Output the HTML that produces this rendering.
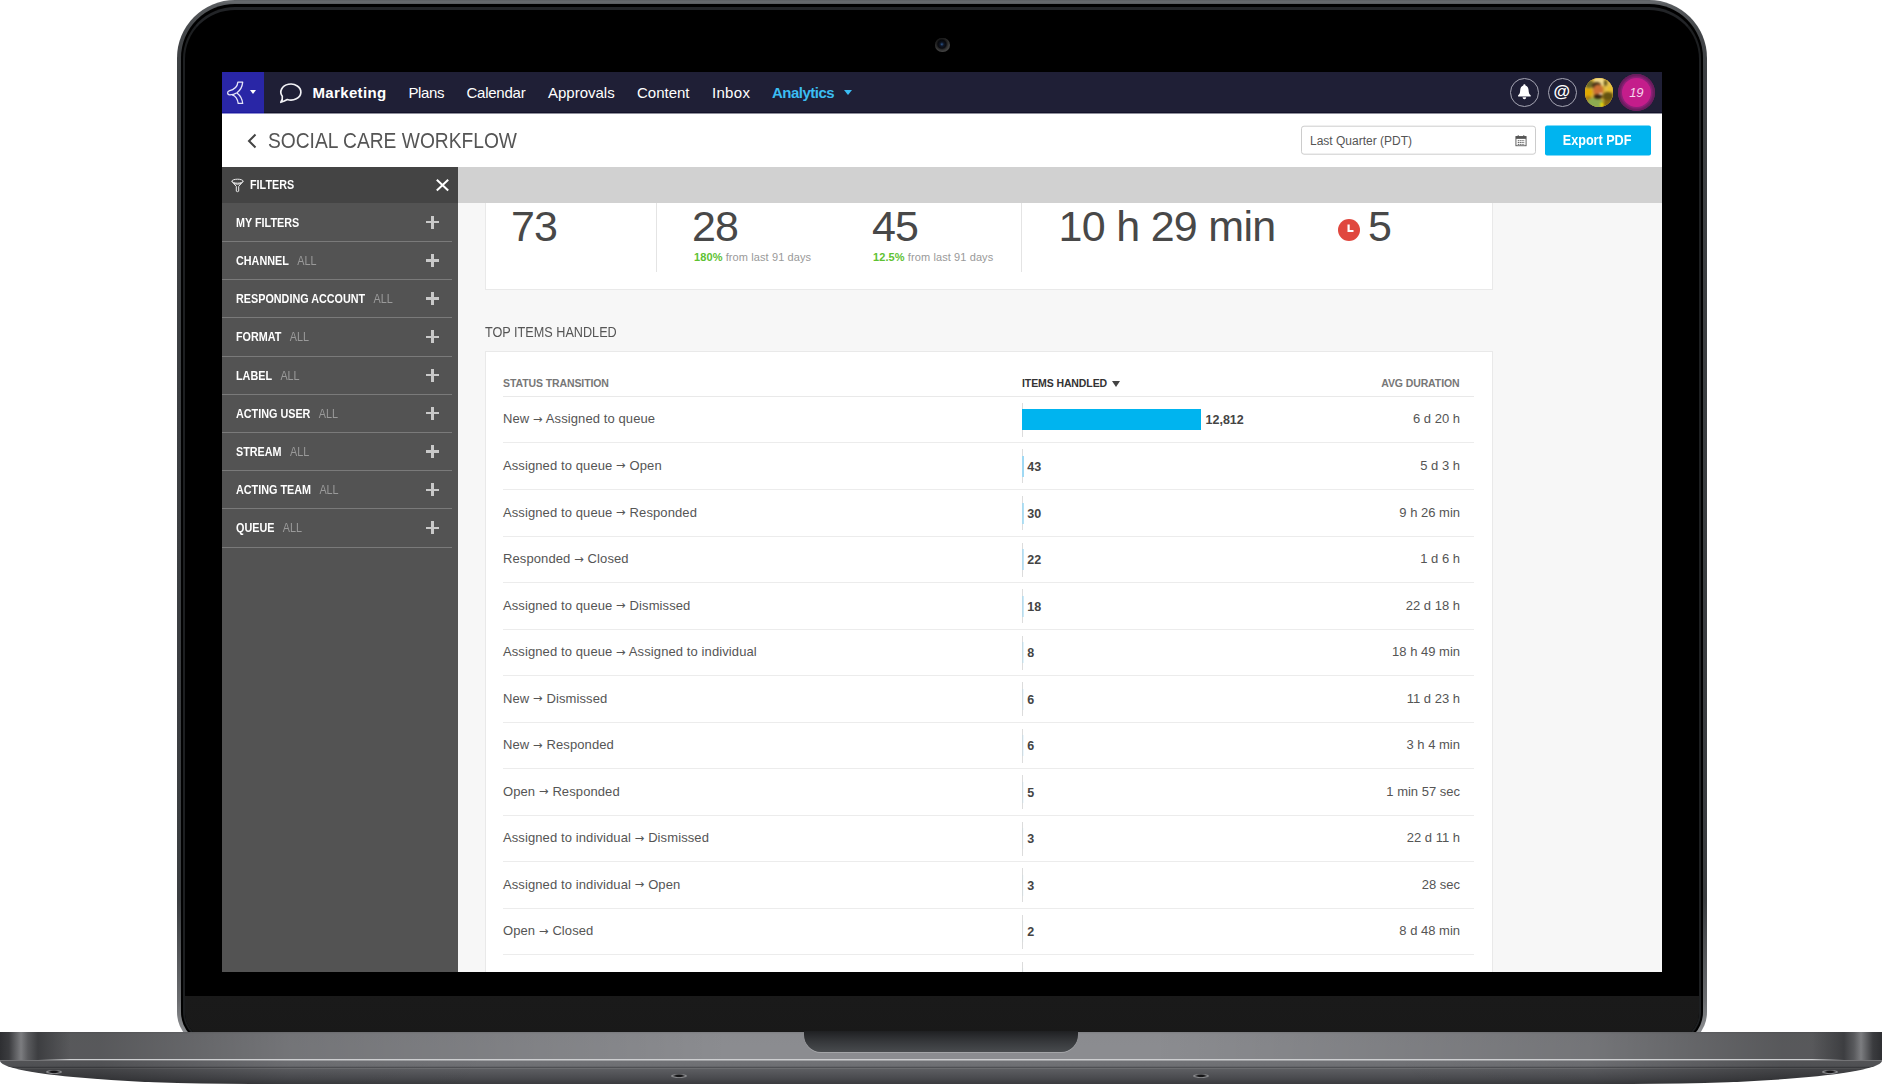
<!DOCTYPE html>
<html lang="en">
<head>
<meta charset="utf-8">
<title>Social Care Workflow</title>
<style>
*{box-sizing:border-box;margin:0;padding:0}
html,body{width:1882px;height:1086px;background:#fff;overflow:hidden}
body{position:relative;font-family:"Liberation Sans","DejaVu Sans",sans-serif;color:#444}
.abs{position:absolute}
/* ---------- laptop ---------- */
#lid{position:absolute;left:177px;top:0;width:1530px;height:1047.500px;border-radius:58px 58px 36px 36px;
 background:linear-gradient(180deg,#5c5f63 0,#686b6e 2px,#585b5e 4px,#44474a 30px,#3d4043 70px,#3a3d40 900px,#6a6c6f 1000px,#8a8c8f 1031px);}
#lid2{position:absolute;left:181px;top:4px;width:1522px;height:1040.500px;border-radius:54px 54px 33px 33px;background:#000;}
#bezel{position:absolute;left:183px;top:6.500px;width:1518px;height:1036px;border-radius:52px 52px 31px 31px;background:#000;border:2.500px solid #1d1f21;border-top:3px solid #222427}
#chin{position:absolute;left:185px;top:996px;width:1514px;height:45px;border-radius:0 0 29px 29px;background:linear-gradient(180deg,#1a1a1a,#191919);}
#cam{position:absolute;left:935.200px;top:37.500px;width:14.800px;height:14.800px;border-radius:50%;background:radial-gradient(circle at 46% 44%,#4a8fd0 0,#22406e 7%,#101828 18%,#0a0b10 36%,#2a2a2a 48%,#3e3e3e 62%,#444 78%,#2a2a2a 92%,#000 100%);}
#cam:after{content:"";position:absolute;left:0;top:0;width:100%;height:100%;border-radius:50%;background:linear-gradient(160deg,rgba(0,0,0,.4) 15%,rgba(0,0,0,0) 65%)}
#base{position:absolute;left:0;top:1031.500px;width:1882px;height:52.500px;
 background:
  linear-gradient(90deg,rgba(0,0,0,.37) 0,rgba(0,0,0,.37) 100px,rgba(0,0,0,.17) 290px,rgba(0,0,0,0) 730px,rgba(0,0,0,0) 1152px,rgba(0,0,0,.17) 1592px,rgba(0,0,0,.37) 1782px,rgba(0,0,0,.37) 1882px) 0 0 / 100% 27.300px no-repeat,
  linear-gradient(90deg,rgba(0,0,0,.28) 0,rgba(0,0,0,.28) 100px,rgba(0,0,0,.04) 290px,rgba(0,0,0,0) 500px,rgba(0,0,0,0) 1382px,rgba(0,0,0,.04) 1592px,rgba(0,0,0,.28) 1782px,rgba(0,0,0,.28) 1882px) 0 28.300px / 100% 24.200px no-repeat,
  linear-gradient(180deg,#7e7f83 0,#8a8b8f 2px,#8b8c90 14px,#8b8c90 27px,#cdced0 27.400px,#cdced0 28.300px,#717276 28.700px,#6e6f73 34.300px,#4e4f53 35px,#4e4f53 35.800px,#6c6d70 36.500px,#5c5d61 37.500px,#4a4b4f 46px,#38393c 52.500px);
 border-radius:0 0 250px 250px / 0 0 23.500px 23.500px;}
#base:before{content:"";position:absolute;left:0;top:0;width:70px;height:28px;background:linear-gradient(90deg,#2e2f32 0,#3b3c3f 9px,#7c7d80 21px,#595a5d 28px,#3d3e41 38px,rgba(90,91,95,0) 70px)}
#base:after{content:"";position:absolute;right:0;top:0;width:70px;height:28px;background:linear-gradient(270deg,#2e2f32 0,#3b3c3f 9px,#7c7d80 21px,#595a5d 28px,#3d3e41 38px,rgba(90,91,95,0) 70px)}
.foot{position:absolute;width:16px;height:3.600px;border-radius:50%;background:radial-gradient(ellipse at 50% 45%,#121214 0,#161618 28%,#88898c 58%,rgba(136,137,140,0) 100%)}
#notch{position:absolute;left:804px;top:1031px;width:274px;height:21px;border-radius:0 0 17px 17px;background:linear-gradient(180deg,#1f2022,#36383b 50%,#484b4e);box-shadow:0 1px 0 #a4a5a8}
/* ---------- screen ---------- */
#screen{position:absolute;left:222px;top:72px;width:1440px;height:900px;overflow:hidden;background:#f7f7f7}
#nav{position:absolute;left:0;top:0;width:1440px;height:41px;background:#1f1f36;border-bottom:1px solid #12122a}
#logo{position:absolute;left:0;top:0;width:42px;height:41px;overflow:hidden;background:#2926a6;border-bottom:1px solid #1c1aa0}
.nv{position:absolute;top:11px;height:20px;line-height:20px;font-size:15px;color:#fff;white-space:nowrap}

.circ{position:absolute;top:6px;width:29px;height:29px;border-radius:50%;border:1.300px solid #a6a6b4;background:#1f1f36;overflow:hidden}
.circ svg{position:absolute;left:-1.300px;top:-1.300px}
.circ span{position:absolute;left:-1.300px;top:-2.400px;width:29px;text-align:center;font-size:17px;line-height:29px;color:#fff;font-weight:bold}
#avatar{width:28.600px;height:28.600px;border-radius:50%;overflow:hidden;background:#d8b03a}
#avatar svg{position:absolute;left:0;top:0}
#badge{width:37px;height:37px;border-radius:50%;background:#751f66;box-shadow:inset 0 0 0 1.500px #6a1d5e}
#badge i{position:absolute;left:3.800px;top:3.800px;width:29.400px;height:29.400px;border-radius:50%;background:#c41d8b;color:#f6d6ec;font-size:13px;line-height:29.500px;text-align:center;font-style:italic;letter-spacing:-0.200px;box-shadow:0 0 0 1.500px #8a2076}
#titlebar{position:absolute;left:0;top:42px;width:1440px;height:53px;background:#fff}
#navfade{position:absolute;left:0;top:41px;width:1440px;height:1px;background:linear-gradient(90deg,#8f8dd2 0,#8f8dd2 42px,#8f8f9b 42px)}
#strip{position:absolute;left:236px;top:95px;width:1204px;height:36px;background:#d1d1d1}
#side{position:absolute;left:0;top:95px;width:236px;height:805px;background:#535353}
#sidehead{position:absolute;left:0;top:0;width:236px;height:36px;background:#444}

#ttl{font-size:22px;line-height:28px;color:#555;font-weight:normal;white-space:nowrap;transform:scaleX(0.873);transform-origin:0 0}
#datebox{width:235px;height:29.500px;border:1px solid #ccc;border-radius:3px;background:#fff}
#datebox span{position:absolute;left:8px;top:7px;font-size:12px;line-height:15px;color:#555;white-space:nowrap}
#export{width:106px;height:30px;border-radius:2px;background:#00b4ef;color:#fff;font-weight:bold;font-size:14px;line-height:29px;text-align:center}
#export span{display:inline-block;transform:scaleX(0.900)}
.frow{position:absolute;left:0;width:230px;height:38.22px;border-bottom:1.500px solid #7a7a7a;color:#fff;font-size:11px;line-height:38px;padding-left:13.500px;white-space:nowrap}
.frow b{font-weight:bold}
.frow em{font-style:normal;display:inline-block;transform:scaleX(0.900);transform-origin:0 50%;font-size:12px}
.frow .all{color:#9a9a9a;margin-left:6px}
.frow i{position:absolute;left:204px;top:12px;width:13px;height:13px}
.frow i:before{content:"";position:absolute;left:0;top:5.300px;width:13px;height:2.400px;background:#c9c9c9}
.frow i:after{content:"";position:absolute;left:5.300px;top:0;width:2.400px;height:13px;background:#c9c9c9}

#stats{position:absolute;left:263px;top:100px;width:1008px;height:118px;background:#fff;border:1px solid #e9e9e9}
.num{position:absolute;top:27.500px;font-size:43px;line-height:50px;margin-left:-2px;letter-spacing:-1px;color:#484848;white-space:nowrap}
.sub{position:absolute;top:78px;letter-spacing:0.100px;font-size:11px;line-height:13px;color:#999;white-space:nowrap}
.sub b{color:#5ec232}
.vd{position:absolute;top:0;width:1px;height:99px;background:#e4e4e4}
#clock{left:852px;top:45.500px;width:22px;height:22px}
#h2{left:263px;top:251px;font-size:14px;line-height:18px;color:#555;white-space:nowrap;transform:scaleX(0.904);transform-origin:0 0}
#tbl{position:absolute;left:263px;top:279px;width:1008px;height:700px;background:#fff;border:1px solid #e9e9e9}
.th{position:absolute;top:23.500px;letter-spacing:-0.100px;font-size:10.500px;line-height:14px;font-weight:bold;color:#777;white-space:nowrap}
.tr{position:absolute;left:17px;width:971px;height:46.550px;border-bottom:1px solid #ececec;font-size:13px;line-height:46px;color:#555}
.tr>span{position:absolute;top:-0.500px;white-space:nowrap}
.tr .c1{left:0;letter-spacing:0.1px}
.tr .c3{right:14px}
.tr em{position:absolute;left:519px;top:6px;width:1px;height:34px;background:#dcdcdc}
.tr u{position:absolute;left:519px;top:12.500px;width:1.600px;height:21px;background:#9fd9f4}
.tr u.big{left:519px;width:179px;background:#00b4ef}
.tr b{position:absolute;left:524.300px;top:0.500px;font-size:12.500px;color:#444}
.ar{font-family:"DejaVu Sans","Liberation Sans",sans-serif;font-size:11.500px;position:relative;top:-0.500px}
</style>
</head>
<body>
<div id="lid"></div><div id="lid2"></div><div id="bezel"></div><div id="chin"></div><div id="cam"></div>
<div id="screen">
 <div id="nav"><div id="logo">
  <svg class="abs" style="left:0;top:0" width="42" height="42" viewBox="0 0 42 42"><g fill="none" stroke="#e6e6f8" stroke-width="1.300" stroke-linejoin="round"><path d="M15.900 10.150 L20.700 10.150 C20.300 14.500 18.300 18.300 15 20.700 C12.500 22.300 9.500 22.900 7.600 22.850 C5.200 22.700 4.900 19.600 7.100 18.800 C11.500 17.900 15.300 15.800 15.900 10.150 Z"/><path d="M10.200 22.850 C13.500 24 15.600 27 16.200 31.450 L20.700 31.450 C20.300 27.300 18.500 23.500 15 20.900"/></g></svg>
  <div class="abs" style="left:28px;top:18px;width:0;height:0;border-left:3.500px solid transparent;border-right:3.500px solid transparent;border-top:4.200px solid #fff"></div>
 </div>
  <svg class="abs" style="left:56px;top:8px" width="26" height="26" viewBox="0 0 26 26"><path d="M4.300 16.200 A10 8 0 1 1 9.300 19.550 Q6.500 21.200 2.800 22.300 Q4.900 19.500 4.300 16.200 Z" fill="none" stroke="#f2f2f6" stroke-width="1.650" stroke-linejoin="round"/></svg>
  <div class="nv" style="left:90.500px;font-weight:bold;letter-spacing:0.350px">Marketing</div>
  <div class="nv" style="left:186.500px;letter-spacing:-0.400px">Plans</div>
  <div class="nv" style="left:244.500px;letter-spacing:-0.250px">Calendar</div>
  <div class="nv" style="left:326px">Approvals</div>
  <div class="nv" style="left:415px">Content</div>
  <div class="nv" style="left:490px;letter-spacing:0.300px">Inbox</div>
  <div class="nv" style="left:550px;color:#3bbdf3;font-weight:bold;letter-spacing:-0.500px">Analytics</div>
  <div class="abs" style="left:622px;top:18px;width:0;height:0;border-left:4px solid transparent;border-right:4px solid transparent;border-top:5px solid #3bbdf3"></div>
  <div class="circ" style="left:1288px"><svg width="29" height="29" viewBox="0 0 29 29"><path d="M14.400 6.300 C15.100 6.300 15.500 6.800 15.500 7.500 C17.600 8.100 18.500 10 18.600 12.300 C18.700 15 19.300 16.300 20.700 17.300 L20.700 18.400 L8.100 18.400 L8.100 17.300 C9.500 16.300 10.100 15 10.200 12.300 C10.300 10 11.200 8.100 13.300 7.500 C13.300 6.800 13.700 6.300 14.400 6.300 Z M12.600 19.300 L16.200 19.300 C16.200 20.500 15.400 21.300 14.400 21.300 C13.400 21.300 12.600 20.500 12.600 19.300 Z" fill="#fff"/></svg></div>
  <div class="circ" style="left:1325.500px"><span>@</span></div>
  <div class="abs" id="avatar" style="left:1362.500px;top:6.300px"><svg width="29" height="29" viewBox="0 0 29 29"><rect width="29" height="29" fill="#d6ad35"/><g style="filter:blur(0.800px)"><rect x="9" y="0" width="10" height="8" fill="#f3dc8e"/><rect x="20" y="2" width="9" height="11" fill="#e4c252"/><ellipse cx="4" cy="6" rx="4" ry="4" fill="#6d6a2a"/><ellipse cx="3" cy="14.500" rx="4" ry="4" fill="#e0a800"/><ellipse cx="3" cy="21" rx="4" ry="3" fill="#b07d10"/><ellipse cx="20.500" cy="5" rx="1.800" ry="3" fill="#6b5c1c"/><ellipse cx="25" cy="11" rx="3" ry="3" fill="#e8c030"/><ellipse cx="23" cy="18.500" rx="5.500" ry="4.500" fill="#665410"/><ellipse cx="23" cy="26" rx="6" ry="4" fill="#8b6a12"/><ellipse cx="10" cy="25.500" rx="8.500" ry="6" fill="#8cab50"/><circle cx="17" cy="26.500" r="2" fill="#f2da00"/><ellipse cx="11.500" cy="7.500" rx="4.500" ry="3.500" fill="#4a3318"/><ellipse cx="13.200" cy="12.500" rx="5" ry="6" fill="#cc6f34"/><ellipse cx="13" cy="18.600" rx="4.200" ry="2.300" fill="#33220f"/><ellipse cx="15.800" cy="16" rx="1.800" ry="1" fill="#f0e2d6"/></g></svg></div>
  <div class="abs" id="badge" style="left:1395.900px;top:2px"><i>19</i></div>
 </div>
 <div id="navfade"></div>
 <div id="titlebar">
  <svg class="abs" style="left:24px;top:18px" width="12" height="18" viewBox="0 0 12 18"><path d="M9.5 2.5 L3 9 L9.500 15.500" fill="none" stroke="#444" stroke-width="2"/></svg>
  <div class="abs" id="ttl" style="left:46px;top:13px">SOCIAL CARE WORKFLOW</div>
  <div class="abs" id="datebox" style="left:1079px;top:11.500px;transform:translateY(-0.300px)"><span>Last Quarter (PDT)</span>
   <svg class="abs" style="left:213px;top:8px" width="12" height="12" viewBox="0 0 13 13"><rect x="1" y="2" width="11" height="10" fill="none" stroke="#555" stroke-width="1"/><rect x="1" y="2" width="11" height="2.500" fill="#555"/><path d="M3.500 0.500v2.500M9.500 0.500v2.500" stroke="#555" stroke-width="1.2"/><path d="M3 6.500h7M3 8.500h7M3 10.500h7" stroke="#555" stroke-width="1" stroke-dasharray="1.4 0.6"/></svg>
  </div>
  <div class="abs" id="export" style="left:1322.500px;top:11.500px;transform:translateY(-0.500px)"><span>Export PDF</span></div>
 </div>
<div id="stats">
  <div class="num" style="left:27px">73</div>
  <div class="vd" style="left:170.400px"></div>
  <div class="num" style="left:208px">28</div>
  <div class="sub" style="left:208px"><b>180%</b> from last 91 days</div>
  <div class="num" style="left:388px">45</div>
  <div class="sub" style="left:387px"><b>12.5%</b> from last 91 days</div>
  <div class="vd" style="left:535.400px"></div>
  <div class="num" style="left:574.500px;letter-spacing:-0.700px">10 h 29 min</div>
  <div class="abs" id="clock"><svg width="22" height="22" viewBox="0 0 22 22"><circle cx="11" cy="11" r="11" fill="#e0473e"/><path d="M10.600 5.500V12H15.500" fill="none" stroke="#fff" stroke-width="2.200"/></svg></div>
  <div class="num" style="left:884px">5</div>
 </div>
 <div class="abs" id="h2">TOP ITEMS HANDLED</div>
 <div id="tbl">
  <div class="th" style="left:17px">STATUS TRANSITION</div>
  <div class="th" style="left:536px;color:#333">ITEMS HANDLED</div>
  <div class="abs" style="left:626px;top:28.500px;width:0;height:0;border-left:4.500px solid transparent;border-right:4.500px solid transparent;border-top:6px solid #444"></div>
  <div class="th" style="right:32.500px">AVG DURATION</div>
  <div class="abs" style="left:17px;top:44px;width:971px;height:1px;background:#e9e9e9"></div>
   <div class="tr" style="top:44.90px"><span class="c1">New <span class="ar">→</span> Assigned to queue</span><em></em><u class="big"></u><b style="left:702.500px">12,812</b><span class="c3">6 d 20 h</span></div>
   <div class="tr" style="top:91.45px"><span class="c1">Assigned to queue <span class="ar">→</span> Open</span><em></em><u style="opacity:1"></u><b>43</b><span class="c3">5 d 3 h</span></div>
   <div class="tr" style="top:138.00px"><span class="c1">Assigned to queue <span class="ar">→</span> Responded</span><em></em><u style="opacity:0.8"></u><b>30</b><span class="c3">9 h 26 min</span></div>
   <div class="tr" style="top:184.55px"><span class="c1">Responded <span class="ar">→</span> Closed</span><em></em><u style="opacity:0.65"></u><b>22</b><span class="c3">1 d 6 h</span></div>
   <div class="tr" style="top:231.10px"><span class="c1">Assigned to queue <span class="ar">→</span> Dismissed</span><em></em><u style="opacity:0.55"></u><b>18</b><span class="c3">22 d 18 h</span></div>
   <div class="tr" style="top:277.65px"><span class="c1">Assigned to queue <span class="ar">→</span> Assigned to individual</span><em></em><u style="opacity:0.3"></u><b>8</b><span class="c3">18 h 49 min</span></div>
   <div class="tr" style="top:324.20px"><span class="c1">New <span class="ar">→</span> Dismissed</span><em></em><u style="opacity:0.2"></u><b>6</b><span class="c3">11 d 23 h</span></div>
   <div class="tr" style="top:370.75px"><span class="c1">New <span class="ar">→</span> Responded</span><em></em><u style="opacity:0.2"></u><b>6</b><span class="c3">3 h 4 min</span></div>
   <div class="tr" style="top:417.30px"><span class="c1">Open <span class="ar">→</span> Responded</span><em></em><u style="opacity:0.15"></u><b>5</b><span class="c3">1 min 57 sec</span></div>
   <div class="tr" style="top:463.85px"><span class="c1">Assigned to individual <span class="ar">→</span> Dismissed</span><em></em><u style="opacity:0.08"></u><b>3</b><span class="c3">22 d 11 h</span></div>
   <div class="tr" style="top:510.40px"><span class="c1">Assigned to individual <span class="ar">→</span> Open</span><em></em><u style="opacity:0.08"></u><b>3</b><span class="c3">28 sec</span></div>
   <div class="tr" style="top:556.95px"><span class="c1">Open <span class="ar">→</span> Closed</span><em></em><u style="opacity:0.05"></u><b>2</b><span class="c3">8 d 48 min</span></div>
   <div class="tr" style="top:603.50px"><span class="c1">Closed <span class="ar">→</span> Open</span><em></em><u style="opacity:0.05"></u><b>2</b><span class="c3">3 d 2 h</span></div>
 </div>
 <div id="strip"></div>
 <div id="side"><div id="sidehead">
   <svg class="abs" style="left:9px;top:10.800px" width="13" height="15" viewBox="0 0 13 15"><g fill="none" stroke="#ececec" stroke-width="1"><ellipse cx="6.500" cy="3.200" rx="5.600" ry="2"/><path d="M0.900 3.400 L5.300 8.400 L5.300 13.200 Q6.500 14.200 7.700 13.200 L7.700 8.400 L12.100 3.400"/><path d="M2.700 5.500 Q6.500 7 10.300 5.500"/></g></svg>
   <div class="abs" style="left:28px;top:10px;font-size:13px;line-height:16px;color:#fff;font-weight:bold;transform:scaleX(0.830);transform-origin:0 0">FILTERS</div>
   <svg class="abs" style="left:213px;top:11px" width="15" height="14" viewBox="0 0 15 14"><path d="M1.800 1.700 L13.200 12.500 M13.200 1.700 L1.800 12.500" stroke="#fff" stroke-width="2"/></svg>
  </div>
  <div class="frow" style="top:36.70px"><em><b>MY FILTERS</b></em><i></i></div>
  <div class="frow" style="top:74.92px"><em><b>CHANNEL</b> <span class="all">ALL</span></em><i></i></div>
  <div class="frow" style="top:113.14px"><em><b>RESPONDING ACCOUNT</b> <span class="all">ALL</span></em><i></i></div>
  <div class="frow" style="top:151.36px"><em><b>FORMAT</b> <span class="all">ALL</span></em><i></i></div>
  <div class="frow" style="top:189.58px"><em><b>LABEL</b> <span class="all">ALL</span></em><i></i></div>
  <div class="frow" style="top:227.80px"><em><b>ACTING USER</b> <span class="all">ALL</span></em><i></i></div>
  <div class="frow" style="top:266.02px"><em><b>STREAM</b> <span class="all">ALL</span></em><i></i></div>
  <div class="frow" style="top:304.24px"><em><b>ACTING TEAM</b> <span class="all">ALL</span></em><i></i></div>
  <div class="frow" style="top:342.46px"><em><b>QUEUE</b> <span class="all">ALL</span></em><i></i></div>
 </div>
</div>
<div id="base"></div><div class="foot" style="left:45.600px;top:1070.300px"></div><div class="foot" style="left:671.400px;top:1074px"></div><div class="foot" style="left:1192.600px;top:1074px"></div><div class="foot" style="left:1822px;top:1070.300px"></div><div id="notch"></div>
</body>
</html>
